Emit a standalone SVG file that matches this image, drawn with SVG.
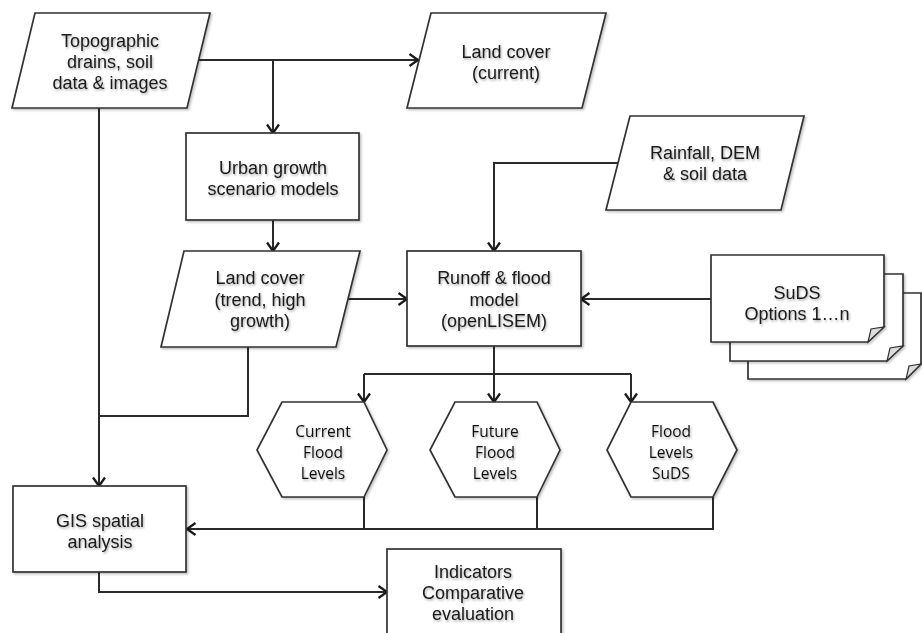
<svg xmlns="http://www.w3.org/2000/svg" width="922" height="633" viewBox="0 0 922 633">
<style>
.shape{fill:#fff;stroke:#333;stroke-width:1.7;filter:url(#sh)}
.t{font-family:"Liberation Sans",Arial,sans-serif;font-size:18px;fill:#1a1a1a;text-anchor:middle;filter:url(#ts)}
.h{font-family:"Open Sans","Liberation Sans",sans-serif;font-size:15.5px;fill:#111;text-anchor:middle;filter:url(#ts)}
.c{fill:none;stroke:#2a2a2a;stroke-width:2}
.a{marker-end:url(#arr)}
.fold{fill:#ddd;stroke:#333;stroke-width:1.2}
</style>
<defs>
<filter id="sh" x="-10%" y="-10%" width="130%" height="130%">
<feDropShadow dx="1.5" dy="1.5" stdDeviation="1.2" flood-color="#000" flood-opacity="0.25"/>
</filter>
<filter id="ts" x="-10%" y="-20%" width="120%" height="150%">
<feDropShadow dx="1" dy="1.5" stdDeviation="1.2" flood-color="#000" flood-opacity="0.35"/>
</filter>
<marker id="arr" viewBox="0 0 12 14" refX="10" refY="7" markerWidth="12" markerHeight="14" markerUnits="userSpaceOnUse" orient="auto">
<path d="M1.5,1 L10,7 L1.5,13" fill="none" stroke="#1a1a1a" stroke-width="2.3"/>
</marker>
</defs>
<rect width="922" height="633" fill="#fff"/>

<g id="connectors">
<path class="c a" d="M199,60 H418"/>
<path class="c a" d="M273,60 V133"/>
<path class="c a" d="M273,220 V251"/>
<path class="c a" d="M99,108 V486"/>
<path class="c" d="M248,347 V416 H99"/>
<path class="c a" d="M348,299 H407"/>
<path class="c a" d="M618,163 H494 V251"/>
<path class="c a" d="M711,299 H581"/>
<path class="c a" d="M494,346 V402"/>
<path class="c" d="M364,374 H631"/>
<path class="c a" d="M364,374 V402"/>
<path class="c a" d="M631,374 V402"/>
<path class="c" d="M364,497 V529"/>
<path class="c" d="M537,497 V529"/>
<path class="c a" d="M713,497 V529 H187"/>
<path class="c a" d="M99,572 V592 H387"/>
</g>

<g id="topographic">
<polygon class="shape" points="35,13 210,13 187,108 12,108"/>
<text class="t" x="110" y="47">Topographic</text>
<text class="t" x="110" y="68">drains, soil</text>
<text class="t" x="110" y="89">data &amp; images</text>
</g>

<g id="landcover-current">
<polygon class="shape" points="431,13 606,13 582,108 407,108"/>
<text class="t" x="506" y="58">Land cover</text>
<text class="t" x="506" y="79">(current)</text>
</g>

<g id="urban-growth">
<rect class="shape" x="186" y="133" width="173" height="87"/>
<text class="t" x="273" y="174">Urban growth</text>
<text class="t" x="273" y="195">scenario models</text>
</g>

<g id="rainfall">
<polygon class="shape" points="630,116 804,116 781,210 606,210"/>
<text class="t" x="705" y="159">Rainfall, DEM</text>
<text class="t" x="705" y="180">&amp; soil data</text>
</g>

<g id="landcover-trend">
<polygon class="shape" points="184,251 360,251 336,347 161,347"/>
<text class="t" x="260" y="284">Land cover</text>
<text class="t" x="260" y="306">(trend, high</text>
<text class="t" x="260" y="327">growth)</text>
</g>

<g id="runoff">
<rect class="shape" x="407" y="251" width="174" height="95"/>
<text class="t" x="494" y="284">Runoff &amp; flood</text>
<text class="t" x="494" y="306">model</text>
<text class="t" x="494" y="327">(openLISEM)</text>
</g>

<g id="suds">
<path class="shape" d="M748,293 H921 V364 L906,379 H748 Z"/>
<path class="fold" d="M921,364 L906,379 L909,366 Z"/>
<path class="shape" d="M730,274 H903 V346 L887,361 H730 Z"/>
<path class="fold" d="M903,346 L887,361 L890,348 Z"/>
<path class="shape" d="M711,255 H884 V327 L868,342 H711 Z"/>
<path class="fold" d="M884,327 L868,342 L871,329 Z"/>
<text class="t" x="797" y="299">SuDS</text>
<text class="t" x="797" y="320">Options 1…n</text>
</g>

<g id="current-flood">
<polygon class="shape" points="282,402 364,402 387,450 364,497 282,497 257,450"/>
<text class="h" x="323" y="437">Current</text>
<text class="h" x="323" y="458">Flood</text>
<text class="h" x="323" y="479">Levels</text>
</g>

<g id="future-flood">
<polygon class="shape" points="455,402 537,402 560,450 537,497 455,497 430,450"/>
<text class="h" x="495" y="437">Future</text>
<text class="h" x="495" y="458">Flood</text>
<text class="h" x="495" y="479">Levels</text>
</g>

<g id="suds-flood">
<polygon class="shape" points="631,402 713,402 737,450 713,497 631,497 607,450"/>
<text class="h" x="671" y="437">Flood</text>
<text class="h" x="671" y="458">Levels</text>
<text class="h" x="671" y="479">SuDS</text>
</g>

<g id="gis">
<rect class="shape" x="13" y="486" width="173" height="86"/>
<text class="t" x="100" y="527">GIS spatial</text>
<text class="t" x="100" y="548">analysis</text>
</g>

<g id="indicators">
<rect class="shape" x="387" y="549" width="174" height="100"/>
<text class="t" x="473" y="578">Indicators</text>
<text class="t" x="473" y="599">Comparative</text>
<text class="t" x="473" y="620">evaluation</text>
</g>
</svg>
